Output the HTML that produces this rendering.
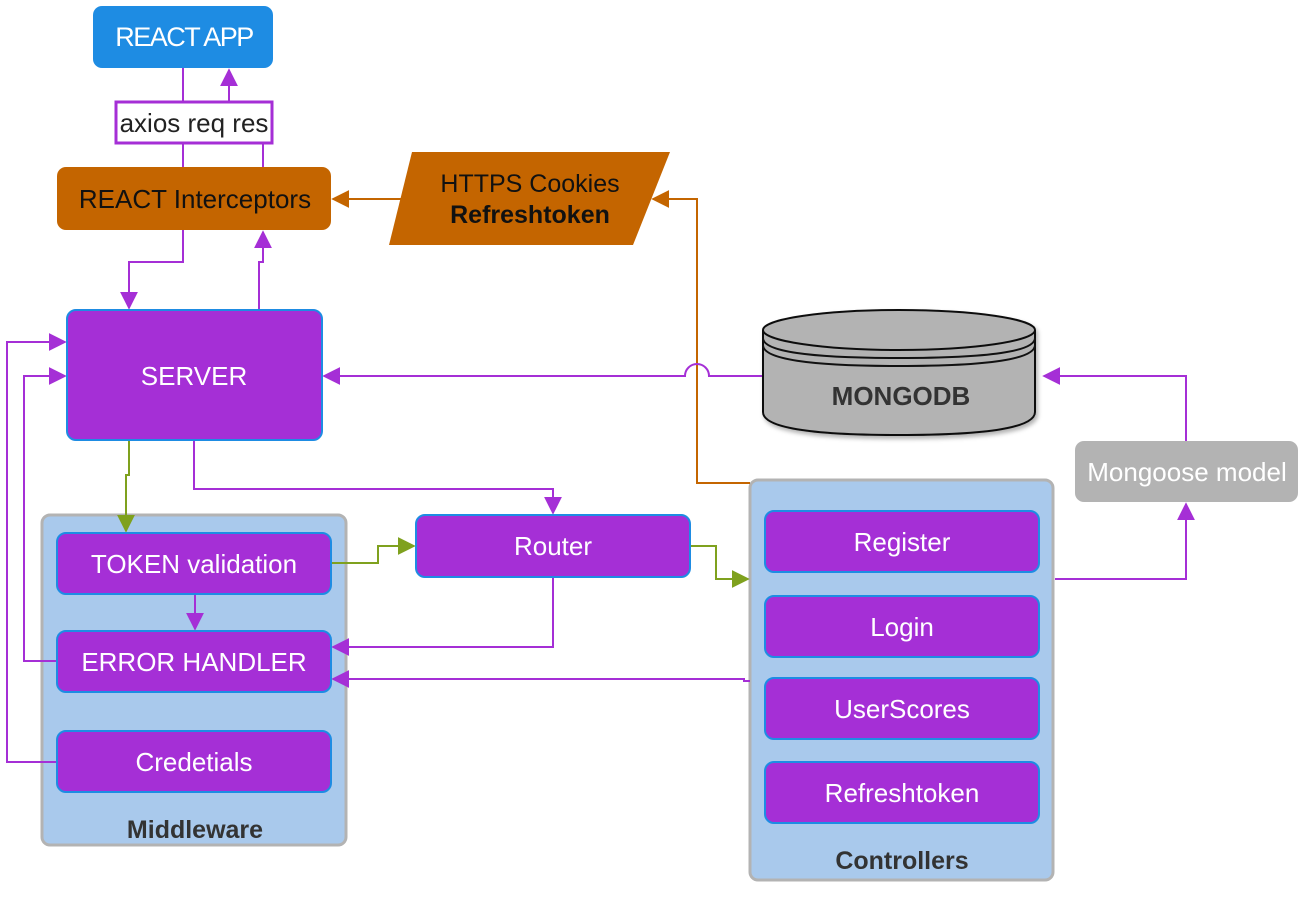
<!DOCTYPE html>
<html><head><meta charset="utf-8"><style>
html,body{margin:0;padding:0;background:#fff;}
svg{display:block;font-family:"Liberation Sans",Arial,sans-serif;}
</style></head><body>
<svg width="1304" height="901" viewBox="0 0 1304 901" xmlns="http://www.w3.org/2000/svg">
<defs>
<marker id="apb" viewBox="0 0 10 10" refX="9" refY="5" markerWidth="18" markerHeight="18" markerUnits="userSpaceOnUse" orient="auto"><path d="M0,0 L10,5 L0,10 z" fill="#a52fd6"/></marker>
<marker id="ag" viewBox="0 0 10 10" refX="9" refY="5" markerWidth="18" markerHeight="18" markerUnits="userSpaceOnUse" orient="auto"><path d="M0,0 L10,5 L0,10 z" fill="#7fa11e"/></marker>
<marker id="ao" viewBox="0 0 10 10" refX="9" refY="5" markerWidth="18" markerHeight="18" markerUnits="userSpaceOnUse" orient="auto"><path d="M0,0 L10,5 L0,10 z" fill="#c46500"/></marker>
<filter id="sh"><feDropShadow dx="2" dy="3" stdDeviation="2" flood-opacity="0.3"/></filter>
</defs>

<rect x="42" y="515" width="304" height="330" rx="8" fill="#a9c9ec" stroke="#b3b3b3" stroke-width="3"/>
<text x="195" y="838" font-size="25" font-weight="bold" fill="#333" text-anchor="middle">Middleware</text>
<rect x="750" y="480" width="303" height="400" rx="8" fill="#a9c9ec" stroke="#b3b3b3" stroke-width="3"/>
<text x="902" y="869" font-size="25" font-weight="bold" fill="#333" text-anchor="middle">Controllers</text>

<g fill="none" stroke-width="2">
<path d="M183,68 V101 M183,143 V167 M263,143 V167" stroke="#a52fd6"/>
<path d="M229,101 V70" stroke="#a52fd6" marker-end="url(#apb)"/>
<path d="M183,230 V262 H129 V308" stroke="#a52fd6" marker-end="url(#apb)"/>
<path d="M259,310 V262 H263 V232" stroke="#a52fd6" marker-end="url(#apb)"/>
<path d="M410,199 H333" stroke="#c46500" marker-end="url(#ao)"/>
<path d="M750,483 H697 V199 H653" stroke="#c46500" marker-end="url(#ao)"/>
<path d="M762,376 H709 A12,12 0 0 0 685,376 H324" stroke="#a52fd6" marker-end="url(#apb)"/>
<path d="M57,762 H7 V342 H65" stroke="#a52fd6" marker-end="url(#apb)"/>
<path d="M57,661 H24 V376 H65" stroke="#a52fd6" marker-end="url(#apb)"/>
<path d="M129,440 V475 H126 V531" stroke="#7fa11e" marker-end="url(#ag)"/>
<path d="M194,440 V489 H553 V513" stroke="#a52fd6" marker-end="url(#apb)"/>
<path d="M331,563 H378 V546 H414" stroke="#7fa11e" marker-end="url(#ag)"/>
<path d="M690,546 H716 V579 H748" stroke="#7fa11e" marker-end="url(#ag)"/>
<path d="M553,577 V647 H333" stroke="#a52fd6" marker-end="url(#apb)"/>
<path d="M750,681 H744 V679 H333" stroke="#a52fd6" marker-end="url(#apb)"/>
<path d="M195,594 V629" stroke="#a52fd6" marker-end="url(#apb)"/>
<path d="M1055,579 H1186 V504" stroke="#a52fd6" marker-end="url(#apb)"/>
<path d="M1186,441 V376 H1044" stroke="#a52fd6" marker-end="url(#apb)"/>
</g>

<rect x="93" y="6" width="180" height="62" rx="9" fill="#1e8ce3"/>
<text x="184" y="46" font-size="27" fill="#fff" text-anchor="middle" letter-spacing="-1.5">REACT APP</text>
<rect x="116" y="102" width="156" height="41" fill="#fff" stroke="#a52fd6" stroke-width="3"/>
<text x="194" y="132" font-size="26" fill="#222" text-anchor="middle">axios req res</text>
<rect x="57" y="167" width="274" height="63" rx="9" fill="#c46500"/>
<text x="195" y="208" font-size="26" fill="#111" text-anchor="middle">REACT Interceptors</text>
<polygon points="412,152 670,152 633,245 389,245" fill="#c46500"/>
<text x="530" y="192" font-size="25" fill="#111" text-anchor="middle">HTTPS Cookies</text>
<text x="530" y="223" font-size="25" font-weight="bold" fill="#111" text-anchor="middle">Refreshtoken</text>

<rect x="67" y="310" width="255" height="130" rx="9" fill="#a52fd6" stroke="#1e8ce3" stroke-width="2"/>
<text x="194" y="385" font-size="26" fill="#fff" text-anchor="middle">SERVER</text>

<g filter="url(#sh)">
<path d="M763,330 V412 Q763,435 899,435 Q1035,435 1035,412 V330" fill="#b3b3b3" stroke="#111" stroke-width="2"/>
<ellipse cx="899" cy="330" rx="136" ry="20" fill="#b3b3b3" stroke="#111" stroke-width="2"/>
</g>
<path d="M763,338 Q763,358 899,358 Q1035,358 1035,338 M763,345 Q763,366 899,366 Q1035,366 1035,345" fill="none" stroke="#111" stroke-width="2"/>
<text x="901" y="405" font-size="26" font-weight="bold" fill="#333" text-anchor="middle">MONGODB</text>

<rect x="1075" y="441" width="223" height="61" rx="9" fill="#b3b3b3"/>
<text x="1187" y="481" font-size="26" fill="#fff" text-anchor="middle">Mongoose model</text>

<rect x="416" y="515" width="274" height="62" rx="9" fill="#a52fd6" stroke="#1e8ce3" stroke-width="2"/>
<text x="553" y="555" font-size="26" fill="#fff" text-anchor="middle">Router</text>

<g fill="#a52fd6" stroke="#1e8ce3" stroke-width="2">
<rect x="57" y="533" width="274" height="61" rx="9"/>
<rect x="57" y="631" width="274" height="61" rx="9"/>
<rect x="57" y="731" width="274" height="61" rx="9"/>
<rect x="765" y="511" width="274" height="61" rx="9"/>
<rect x="765" y="596" width="274" height="61" rx="9"/>
<rect x="765" y="678" width="274" height="61" rx="9"/>
<rect x="765" y="762" width="274" height="61" rx="9"/>
</g>
<g font-size="26" fill="#fff" text-anchor="middle">
<text x="194" y="573">TOKEN validation</text>
<text x="194" y="671">ERROR HANDLER</text>
<text x="194" y="771">Credetials</text>
<text x="902" y="551">Register</text>
<text x="902" y="636">Login</text>
<text x="902" y="718">UserScores</text>
<text x="902" y="802">Refreshtoken</text>
</g>
</svg>
</body></html>
